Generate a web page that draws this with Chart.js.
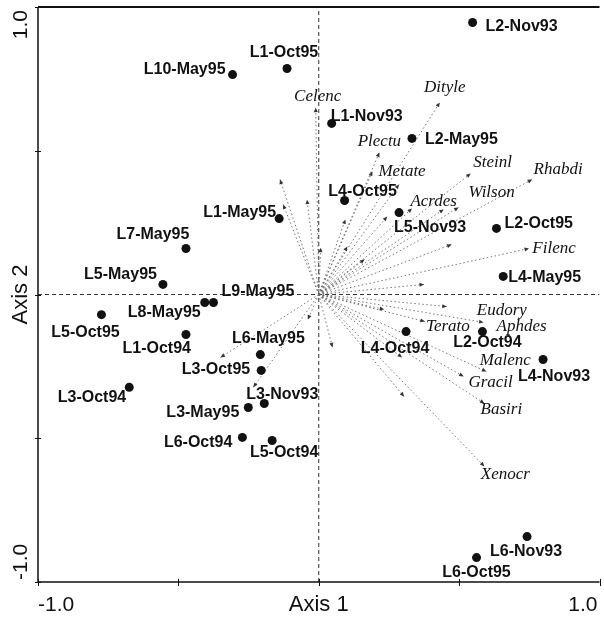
<!DOCTYPE html>
<html>
<head>
<meta charset="utf-8">
<script src="https://cdn.jsdelivr.net/npm/chart.js@4.4.0/dist/chart.umd.min.js"></script>
<style>
  html, body { margin: 0; padding: 0; background: #fff; }
  #wrap { width: 604px; height: 618px; }
</style>
</head>
<body>
<div id="wrap"><canvas id="c"></canvas></div>
<script>
// ===== DATA: sites =====
const siteNames = ["L2-Nov93", "L1-Oct95", "L10-May95", "L1-Nov93", "L2-May95", "L4-Oct95", "L5-Nov93",
  "L1-May95", "L7-May95", "L2-Oct95", "L4-May95", "L5-May95", "L8-May95", "L9-May95", "L5-Oct95",
  "L1-Oct94", "L6-May95", "L3-Oct95", "L3-Oct94", "L3-Nov93", "L3-May95", "L6-Oct94", "L5-Oct94",
  "L4-Oct94", "L2-Oct94", "L4-Nov93", "L6-Nov93", "L6-Oct95"];
const siteX = [0.548, -0.113, -0.307, 0.046, 0.332, 0.092, 0.286, -0.141, -0.473, 0.633, 0.657, -0.555, -0.406, -0.375,
  -0.774, -0.473, -0.208, -0.205, -0.675, -0.194, -0.251, -0.272, -0.166, 0.311, 0.583, 0.799, 0.742, 0.562];
const siteY = [0.946, 0.786, 0.765, 0.595, 0.543, 0.327, 0.285, 0.264, 0.160, 0.230, 0.063, 0.035, -0.028, -0.028,
  -0.070, -0.139, -0.209, -0.264, -0.323, -0.379, -0.393, -0.497, -0.508, -0.129, -0.129, -0.226, -0.842, -0.915];

// ===== DATA: species vectors ("" = unlabelled) =====
const spNames = ["Celenc", "Dityle", "Plectu", "Metate", "Steinl", "Rhabdi", "Wilson", "Acrdes", "Filenc",
  "Eudory", "Terato", "Aphdes", "Malenc", "Gracil", "Basiri", "Xenocr",
  "", "", "", "", "", "", "", "", "", "", "", "", "", "", "", "", "", "", ""];
const spX = [-0.011, 0.431, 0.216, 0.286, 0.541, 0.760, 0.498, 0.445, 0.749,
  0.456, 0.378, 0.587, 0.597, 0.516, 0.590, 0.590,
  0.191, 0.332, -0.138, -0.127, -0.042, 0.007, 0.102, 0.163, 0.244, 0.473, 0.375, 0.233, 0.297, 0.304, 0.049, -0.039, -0.350, -0.233, 0.095];
const spY = [0.650, 0.668, 0.494, 0.383, 0.421, 0.400, 0.303, 0.296, 0.160,
  -0.042, -0.094, -0.097, -0.268, -0.285, -0.379, -0.598,
  0.428, 0.299, 0.400, 0.313, 0.330, 0.163, 0.167, 0.122, 0.271, 0.174, 0.035, -0.052, -0.219, -0.355, -0.184, -0.087, -0.219, -0.323, 0.261];

// ===== AXES =====
const tickVals = [-1, -0.5, 0, 0.5, 1];
const axisMin = -1.0, axisMax = 1.0;
const xTickLabels = ["-1.0", "1.0"];
const yTickLabels = ["-1.0", "1.0"];
const xTitle = "Axis 1", yTitle = "Axis 2";

// ===== LABEL LAYOUT (align, dx, dy in px) =====
const siteLabelPos = [
  ["left", 13, 4], ["center", -3, -16], ["right", -7, -5], ["left", -1, -7], ["left", 13, 1], ["center", 18, -9],
  ["left", -5, 15], ["right", -3, -6], ["center", -33, -14], ["left", 8, -5], ["left", 5, 1], ["right", -6, -10],
  ["right", -4, 10], ["left", 8, -11], ["center", -16, 18], ["right", 5, 14], ["center", 8, -16], ["right", -11, -1],
  ["right", -3, 10], ["left", -18, -9], ["right", -9, 5], ["right", -10, 5], ["center", 12, 12], ["center", -11, 17],
  ["center", 5, 11], ["center", 11, 17], ["center", -1, 15], ["center", 0, 15]
];
const spLabelPos = [
  [2, -11], [5, -15], [0, -11], [3, -13], [22, -11], [26, -10], [33, -15], [-10, -8], [25, 0],
  [55, 4], [23, 5], [38, 4], [19, -11], [27, 6], [17, 6], [21, 8]
];

const INK = "#111";
const SANS = '"Liberation Sans", Arial, sans-serif';
const SERIF = '"Liberation Serif", "Times New Roman", serif';

// ===== datasets =====
const arrowSets = spX.map((x, i) => ({
  type: "scatter",
  data: [{ x: 0, y: 0 }, { x, y: spY[i] }],
  showLine: true,
  borderColor: "#666",
  borderWidth: 0.9,
  borderDash: [1.5, 2.5],
  pointRadius: 0,
  isArrow: true,
  order: 2
}));

const zeroLines = [
  { data: [{ x: axisMin, y: 0 }, { x: axisMax, y: 0 }] },
  { data: [{ x: 0, y: axisMin }, { x: 0, y: axisMax }] }
].map(d => Object.assign(d, {
  type: "scatter", showLine: true, borderColor: "#333", borderWidth: 1, borderDash: [4, 3], pointRadius: 0, order: 3
}));

const sites = {
  type: "scatter",
  data: siteX.map((x, i) => ({ x, y: siteY[i] })),
  pointRadius: 4.5,
  pointBackgroundColor: INK,
  pointBorderColor: INK,
  pointBorderWidth: 0,
  isSites: true,
  order: 1
};

// ===== plugins =====
const arrowHeads = {
  id: "arrowHeads",
  afterDatasetsDraw(chart) {
    const ctx = chart.ctx;
    ctx.save();
    ctx.fillStyle = "#333";
    chart.data.datasets.forEach((ds, i) => {
      if (!ds.isArrow) return;
      const pts = chart.getDatasetMeta(i).data;
      const a = pts[0], b = pts[1];
      const ang = Math.atan2(b.y - a.y, b.x - a.x);
      ctx.save();
      ctx.translate(b.x, b.y);
      ctx.rotate(ang);
      ctx.beginPath();
      ctx.moveTo(0, 0); ctx.lineTo(-4.5, -2); ctx.lineTo(-4.5, 2); ctx.closePath();
      ctx.fill();
      ctx.restore();
    });
    ctx.restore();
  }
};

const labels = {
  id: "labels",
  afterDatasetsDraw(chart) {
    const ctx = chart.ctx;
    ctx.save();
    ctx.fillStyle = INK;
    ctx.textBaseline = "middle";
    chart.data.datasets.forEach((ds, i) => {
      const pts = chart.getDatasetMeta(i).data;
      if (ds.isSites) {
        ctx.font = "bold 16px " + SANS;
        pts.forEach((p, k) => {
          const [al, dx, dy] = siteLabelPos[k];
          ctx.textAlign = al;
          ctx.fillText(siteNames[k], p.x + dx, p.y + dy);
        });
      }
    });
    // species names
    ctx.font = "italic 17px " + SERIF;
    ctx.textAlign = "center";
    const first = chart.data.datasets.findIndex(d => d.isArrow);
    spNames.forEach((n, k) => {
      if (!n) return;
      const tip = chart.getDatasetMeta(first + k).data[1];
      const [dx, dy] = spLabelPos[k];
      ctx.fillText(n, tip.x + dx, tip.y + dy);
    });
    ctx.restore();
  }
};

const frame = {
  id: "frame",
  afterDraw(chart) {
    const { ctx, chartArea: a, scales: { x, y } } = chart;
    ctx.save();
    ctx.strokeStyle = INK;
    ctx.lineWidth = 1.5;
    ctx.beginPath();
    ctx.moveTo(a.left, a.top); ctx.lineTo(a.left, a.bottom); ctx.lineTo(a.right, a.bottom);
    ctx.stroke();
    ctx.lineWidth = 2;
    ctx.beginPath();
    ctx.moveTo(a.left, a.top); ctx.lineTo(a.right, a.top);
    ctx.stroke();
    // tick marks
    ctx.lineWidth = 1;
    ctx.beginPath();
    tickVals.forEach(v => {
      const px = Math.round(x.getPixelForValue(v)) + 0.5;
      ctx.moveTo(px, a.bottom - 3); ctx.lineTo(px, a.bottom + 4);
      const py = Math.round(y.getPixelForValue(v)) + 0.5;
      ctx.moveTo(a.left - 3, py); ctx.lineTo(a.left + 3, py);
    });
    ctx.stroke();

    ctx.fillStyle = INK;
    ctx.font = "21px " + SANS;
    ctx.textBaseline = "middle";
    const ty = a.bottom + 23;
    ctx.textAlign = "left";
    ctx.fillText(xTickLabels[0], x.getPixelForValue(axisMin), ty);
    ctx.textAlign = "right";
    ctx.fillText(xTickLabels[1], x.getPixelForValue(axisMax) - 2, ty);
    ctx.textAlign = "center";
    ctx.font = "22px " + SANS;
    ctx.fillText(xTitle, x.getPixelForValue(0), ty);

    // rotated y labels
    ctx.save();
    ctx.translate(21, 0);
    ctx.rotate(-Math.PI / 2);
    ctx.font = "21px " + SANS;
    ctx.textAlign = "left";
    ctx.fillText(yTickLabels[0], -(y.getPixelForValue(axisMin) - 2), 0);
    ctx.textAlign = "right";
    ctx.fillText(yTickLabels[1], -(y.getPixelForValue(axisMax) + 3), 0);
    ctx.textAlign = "center";
    ctx.font = "22px " + SANS;
    ctx.fillText(yTitle, -y.getPixelForValue(0), 0);
    ctx.restore();
    ctx.restore();
  }
};

new Chart(document.getElementById("c"), {
  type: "scatter",
  data: { datasets: [...zeroLines, ...arrowSets, sites] },
  options: {
    responsive: true,
    maintainAspectRatio: false,
    animation: false,
    devicePixelRatio: 1,
    layout: { padding: { left: 38, right: 0, top: 7, bottom: 36 } },
    plugins: { legend: { display: false }, tooltip: { enabled: false } },
    scales: {
      x: { type: "linear", min: axisMin, max: axisMax, display: false },
      y: { type: "linear", min: axisMin, max: axisMax, display: false }
    }
  },
  plugins: [arrowHeads, labels, frame]
});
</script>
</body>
</html>
